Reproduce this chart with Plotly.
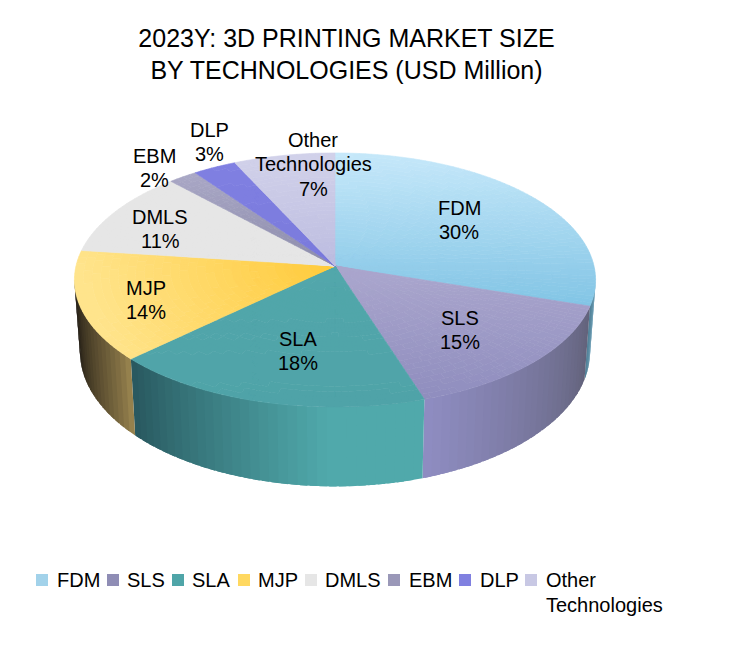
import math
import plotly.graph_objects as go

categories = ["FDM", "SLS", "SLA", "MJP", "DMLS", "EBM", "DLP", "Other|Technologies"]
shares = [30, 15, 18, 14, 11, 2, 3, 7]

# top face gradient: colour at start, colour at end, gradient line in pixels
top_from = ["#c6e8fa", "#aaa6cd", "#52a7ab", "#ffcb3c", "#e6e6e6", "#aaa8c6", "#8080e2", "#d2d2ea"]
top_to = ["#7fc3e4", "#8f8dbe", "#4fa3a8", "#ffe48c", "#e6e6e6", "#8c8cab", "#7a7adc", "#bcbce0"]
top_line = [
    (335, 153, 335, 312),
    (335, 270, 335, 400),
    (335, 266, 335, 407),
    (330, 266, 110, 350),
    (335, 180, 335, 266),
    (335, 172, 335, 266),
    (335, 160, 335, 266),
    (335, 153, 335, 266),
]
# side wall gradient by fraction through the visible part of the slice
wall_from = ["#7fb0c8", "#62627a", "#50a9ab", "#a08a52", None, None, None, None]
wall_to = ["#4f7f95", "#8f8dc2", "#28575e", "#181410", None, None, None, None]
legend_colors = ["#a2d2ea", "#8f8db5", "#4fa5a8", "#ffd860", "#e6e6e6", "#9a98b8", "#8080e0", "#c8c8e4"]

# projection of the tilted disc onto the page
CX, CY = 335, 266
RX, RY, PERSP = 259, 125.5, 0.11
BASE_CY, BASE_RX, BASE_RY = 337, 253.5, 133

LABEL_XY = [(459, 220), (460, 330), (298, 351), (146, 300), (160, 229), (154, 168), (209, 142), (313, 164)]
LEGEND_SWATCH_X = [42, 113, 178, 244, 311, 394, 465, 531]
LEGEND_TEXT_X = [55, 125, 190, 256, 323, 407, 478, 544]
LINE_GAP = 24.5


def project(theta, r=1.0, cy=CY, rx=RX, ry=RY):
    u = r * math.sin(math.radians(theta))
    v = r * math.cos(math.radians(theta))
    s = 1 / (1 + PERSP * v)
    return CX + u * s * rx, cy - ry * v * s


def hex_rgb(c):
    return tuple(int(c[i:i + 2], 16) for i in (1, 3, 5))


def mix(a, b, t):
    t = max(0, min(1, t))
    ca, cb = hex_rgb(a), hex_rgb(b)
    return "#%02x%02x%02x" % tuple(round(ca[i] + (cb[i] - ca[i]) * t) for i in range(3))


def add_cells(fig, cells, width=0.6):
    # cells sharing a colour go in one trace
    groups = {}
    for poly, color in cells:
        groups.setdefault(color, []).append(poly)
    for color, polys in groups.items():
        xs, ys = [], []
        for poly in polys:
            xs += [p[0] for p in poly] + [poly[0][0], None]
            ys += [p[1] for p in poly] + [poly[0][1], None]
        fig.add_trace(go.Scatter(x=xs, y=ys, mode="lines", fill="toself", fillcolor=color,
                                 line=dict(color=color, width=width, simplify=False),
                                 hoverinfo="skip", showlegend=False))


def text_lines(x, y, lines, **kw):
    # plotly's own line height is too tall here, so each line is its own annotation
    out = []
    top = y - LINE_GAP * (len(lines) - 1) / 2
    for n, line in enumerate(lines):
        out.append(dict(x=x, y=top + n * LINE_GAP, text=line, showarrow=False,
                        font=dict(size=20, color="#000000"), **kw))
    return out


fig = go.Figure()

starts = []
total = 0
for s in shares:
    starts.append(total / sum(shares) * 360)
    total += s
ends = starts[1:] + [360]

# side wall first, the top face covers what it should
for i in range(len(shares)):
    if wall_from[i] is None:
        continue
    a0, a1 = max(starts[i], 96), min(ends[i], 264)
    n = int((a1 - a0) / 2) + 1
    for k in range(n):
        t0 = a0 + (a1 - a0) * k / n
        t1 = a0 + (a1 - a0) * (k + 1) / n
        # each band runs on under the next one, so no seam shows between them
        t1_over = min(t1 + 1.5, a1)
        poly = [project(t0), project(t1_over),
                project(t1_over, cy=BASE_CY, rx=BASE_RX, ry=BASE_RY),
                project(t0, cy=BASE_CY, rx=BASE_RX, ry=BASE_RY)]
        f = ((t0 + t1) / 2 - a0) / (a1 - a0)
        if i == 2:
            f = max(0, (f - 0.3) / 0.7)
        if i == 3:
            f = f ** 0.7
        add_cells(fig, [(poly, mix(wall_from[i], wall_to[i], f))], width=0)

# top face, cut into small cells so each can take its gradient colour
RINGS = 30
for i in range(len(shares)):
    x0, y0, x1, y1 = top_line[i]
    dx, dy = x1 - x0, y1 - y0
    n = max(2, int((ends[i] - starts[i]) / 1.5))
    cells = []
    for j in range(n):
        t0 = starts[i] + (ends[i] - starts[i]) * j / n
        t1 = starts[i] + (ends[i] - starts[i]) * (j + 1) / n
        for k in range(RINGS):
            r0, r1 = k / RINGS, (k + 1) / RINGS
            poly = [project(t0, r0), project(t0, r1), project(t1, r1), project(t1, r0)]
            mx = sum(p[0] for p in poly) / 4
            my = sum(p[1] for p in poly) / 4
            f = ((mx - x0) * dx + (my - y0) * dy) / (dx * dx + dy * dy)
            f = round(max(0, min(1, f)) * 40) / 40
            cells.append((poly, mix(top_from[i], top_to[i], f)))
    add_cells(fig, cells)

annotations = []
for i, name in enumerate(categories):
    annotations += text_lines(LABEL_XY[i][0], LABEL_XY[i][1], name.split("|") + [f"{shares[i]}%"])

# legend row
fig.add_trace(go.Scatter(x=LEGEND_SWATCH_X, y=[580] * len(LEGEND_SWATCH_X), mode="markers",
                         marker=dict(symbol="square", size=12, color=legend_colors),
                         hoverinfo="skip", showlegend=False))
for i, name in enumerate(categories):
    for n, line in enumerate(name.split("|")):
        annotations += text_lines(LEGEND_TEXT_X[i], 580 + n * LINE_GAP, [line], xanchor="left")

# the page body has an 8px margin, so the figure is that much smaller
fig.update_layout(
    width=743, height=640,
    margin=dict(l=0, r=0, t=0, b=0),
    paper_bgcolor="white", plot_bgcolor="white",
    font=dict(family="Liberation Sans"),
    title=dict(text="2023Y: 3D PRINTING MARKET SIZE<br>BY TECHNOLOGIES (USD Million)",
               x=(346.5 - 8) / 743, xanchor="center", y=1 - (46.5 - 8) / 640, yanchor="middle",
               font=dict(size=25, color="#000000")),
    xaxis=dict(range=[8, 751], visible=False, fixedrange=True),
    yaxis=dict(range=[648, 8], visible=False, fixedrange=True),
    annotations=annotations,
    showlegend=False,
)

fig.write_html("out.html")
